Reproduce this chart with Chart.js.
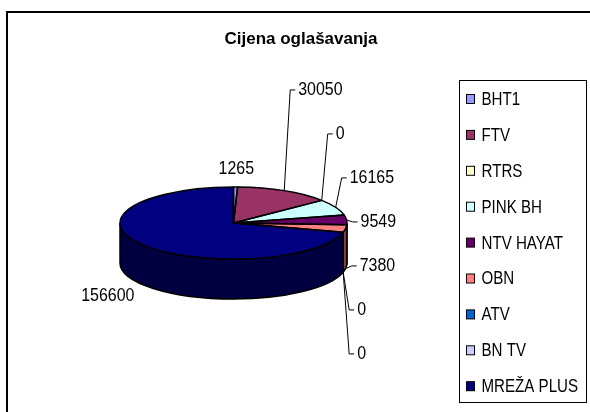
<!DOCTYPE html>
<html>
<head>
<meta charset="utf-8">
<script src="https://cdn.jsdelivr.net/npm/chart.js@4.4.1/dist/chart.umd.min.js"></script>
<style>
  html, body { margin: 0; padding: 0; background: #fff; }
  canvas { display: block; }
</style>
</head>
<body>
<canvas id="grafico" width="590" height="412"></canvas>
<script>
// Podaci
const kanali = ['BHT1', 'FTV', 'RTRS', 'PINK BH', 'NTV HAYAT', 'OBN', 'ATV', 'BN TV', 'MREŽA PLUS'];
const cijene = [1265, 30050, 0, 16165, 9549, 7380, 0, 0, 156600];
const boje = ['#9999FF', '#993366', '#FFFFCC', '#CCFFFF', '#660066', '#FF8080', '#0066CC', '#CCCCFF', '#000080'];
const naslov = 'Cijena oglašavanja';

// Izgled
const nagib = 0.317;   // omjer visine i širine elipse
const dubina = 40;     // visina stranice "cilindra"
const razmakOznaka = 44;
const font = '"Liberation Sans", Arial, sans-serif';
const suzenje = 0.84;  // uski tekst kao u Excelu

function tamnija(hex) {
    const n = parseInt(hex.slice(1), 16);
    const r = (n >> 16) & 255, g = (n >> 8) & 255, b = n & 255;
    return 'rgb(' + Math.round(r * 0.5) + ',' + Math.round(g * 0.5) + ',' + Math.round(b * 0.5) + ')';
}

function pisi(ctx, tekst, x, y, poravnanje) {
    ctx.save();
    ctx.translate(x, y);
    ctx.scale(suzenje, 1);
    ctx.textAlign = poravnanje;
    ctx.fillText(tekst, 0, 0);
    ctx.restore();
}

function geometrija(chart) {
    return chart.getDatasetMeta(0).data.map(luk =>
        luk.getProps(['x', 'y', 'startAngle', 'endAngle', 'outerRadius'], true));
}

// 3D izgled pite: stranice se crtaju ispod, a vrh se spljošti
const pita3d = {
    id: 'pita3d',
    beforeDatasetsDraw(chart) {
        const ctx = chart.ctx;
        const g = geometrija(chart);
        ctx.save();
        ctx.lineWidth = 1.5;
        ctx.strokeStyle = '#000';
        g.forEach((p, i) => {
            const a1 = Math.max(p.startAngle, 0);
            const a2 = Math.min(p.endAngle, Math.PI);
            if (a2 <= a1) return;
            const rx = p.outerRadius, ry = rx * nagib;
            ctx.beginPath();
            ctx.ellipse(p.x, p.y, rx, ry, 0, a1, a2);
            ctx.ellipse(p.x, p.y + dubina, rx, ry, 0, a2, a1, true);
            ctx.closePath();
            ctx.fillStyle = tamnija(boje[i]);
            ctx.fill();
            ctx.stroke();
        });
        ctx.restore();

        const cy = g[0].y;
        ctx.save();
        ctx.translate(0, cy);
        ctx.scale(1, nagib);
        ctx.translate(0, -cy);
    },
    afterDatasetsDraw(chart) {
        const ctx = chart.ctx;
        ctx.restore();
        const g = geometrija(chart);

        // obrub vrha
        ctx.save();
        ctx.lineWidth = 1.5;
        ctx.strokeStyle = '#000';
        ctx.lineJoin = 'round';
        g.forEach(p => {
            if (p.endAngle - p.startAngle <= 0) return;
            const rx = p.outerRadius;
            ctx.beginPath();
            ctx.moveTo(p.x, p.y);
            ctx.ellipse(p.x, p.y, rx, rx * nagib, 0, p.startAngle, p.endAngle);
            ctx.closePath();
            ctx.stroke();
        });
        ctx.restore();

        // oznake vrijednosti
        const info = g.map(p => {
            const s = (p.startAngle + p.endAngle) / 2;
            const rx = p.outerRadius, ry = rx * nagib;
            let ax = p.x + rx * Math.cos(s);
            let ay = p.y + ry * Math.sin(s);
            if (Math.sin(s) > 0.05) ay += dubina;
            return { s, ax, ay };
        });
        const desno = [];
        info.forEach((o, i) => { if (Math.cos(o.s) > 0.3) desno.push(i); });
        let baza = 0;
        desno.forEach((idx, k) => {
            if (Math.abs(Math.sin(info[idx].s)) < Math.abs(Math.sin(info[desno[baza]].s))) baza = k;
        });

        ctx.save();
        ctx.font = '19px ' + font;
        ctx.fillStyle = '#000';
        ctx.strokeStyle = '#000';
        ctx.lineWidth = 1;
        ctx.textBaseline = 'middle';
        info.forEach((o, i) => {
            const tekst = String(cijene[i]);
            const k = desno.indexOf(i);
            if (k >= 0) {
                const ly = info[desno[baza]].ay + 2 + (k - baza) * razmakOznaka;
                const lx = o.ax + 14;
                ctx.beginPath();
                ctx.moveTo(o.ax, o.ay);
                ctx.lineTo(lx - 8, ly);
                ctx.lineTo(lx - 3, ly);
                ctx.stroke();
                pisi(ctx, tekst, lx, ly, 'left');
            } else {
                pisi(ctx, tekst, o.ax + Math.cos(o.s) * 45, o.ay + Math.sin(o.s) * 18, 'center');
            }
        });
        ctx.restore();
    },
    afterDraw(chart) {
        const ctx = chart.ctx;
        ctx.save();
        // okvir
        ctx.strokeStyle = '#000';
        ctx.lineWidth = 2;
        ctx.strokeRect(7, 12, 600, 420);

        // naslov
        ctx.fillStyle = '#000';
        ctx.font = 'bold 17px ' + font;
        ctx.textAlign = 'center';
        ctx.textBaseline = 'middle';
        ctx.fillText(naslov, 301, 39);

        // legenda
        ctx.lineWidth = 1;
        ctx.strokeRect(459.5, 80.5, 127, 322);
        ctx.font = '18px ' + font;
        kanali.forEach((k, i) => {
            const y = 99 + i * 35.9;
            ctx.fillStyle = boje[i];
            ctx.fillRect(466.5, y - 4.5, 8, 9);
            ctx.strokeRect(466.5, y - 4.5, 8, 9);
            ctx.fillStyle = '#000';
            pisi(ctx, k, 481.5, y + 1, 'left');
        });
        ctx.restore();
    }
};

const ctx = document.getElementById('grafico').getContext('2d');

new Chart(ctx, {
    type: 'pie',
    data: {
        labels: kanali,
        datasets: [{
            data: cijene,
            backgroundColor: boje,
            borderWidth: 0,
            clip: false
        }]
    },
    options: {
        responsive: false,
        animation: false,
        events: [],
        layout: {
            padding: { left: 120, right: 243, top: 109.5, bottom: 75.5 }
        },
        plugins: {
            legend: { display: false },
            tooltip: { enabled: false },
            title: { display: false }
        }
    },
    plugins: [pita3d]
});
</script>
</body>
</html>
